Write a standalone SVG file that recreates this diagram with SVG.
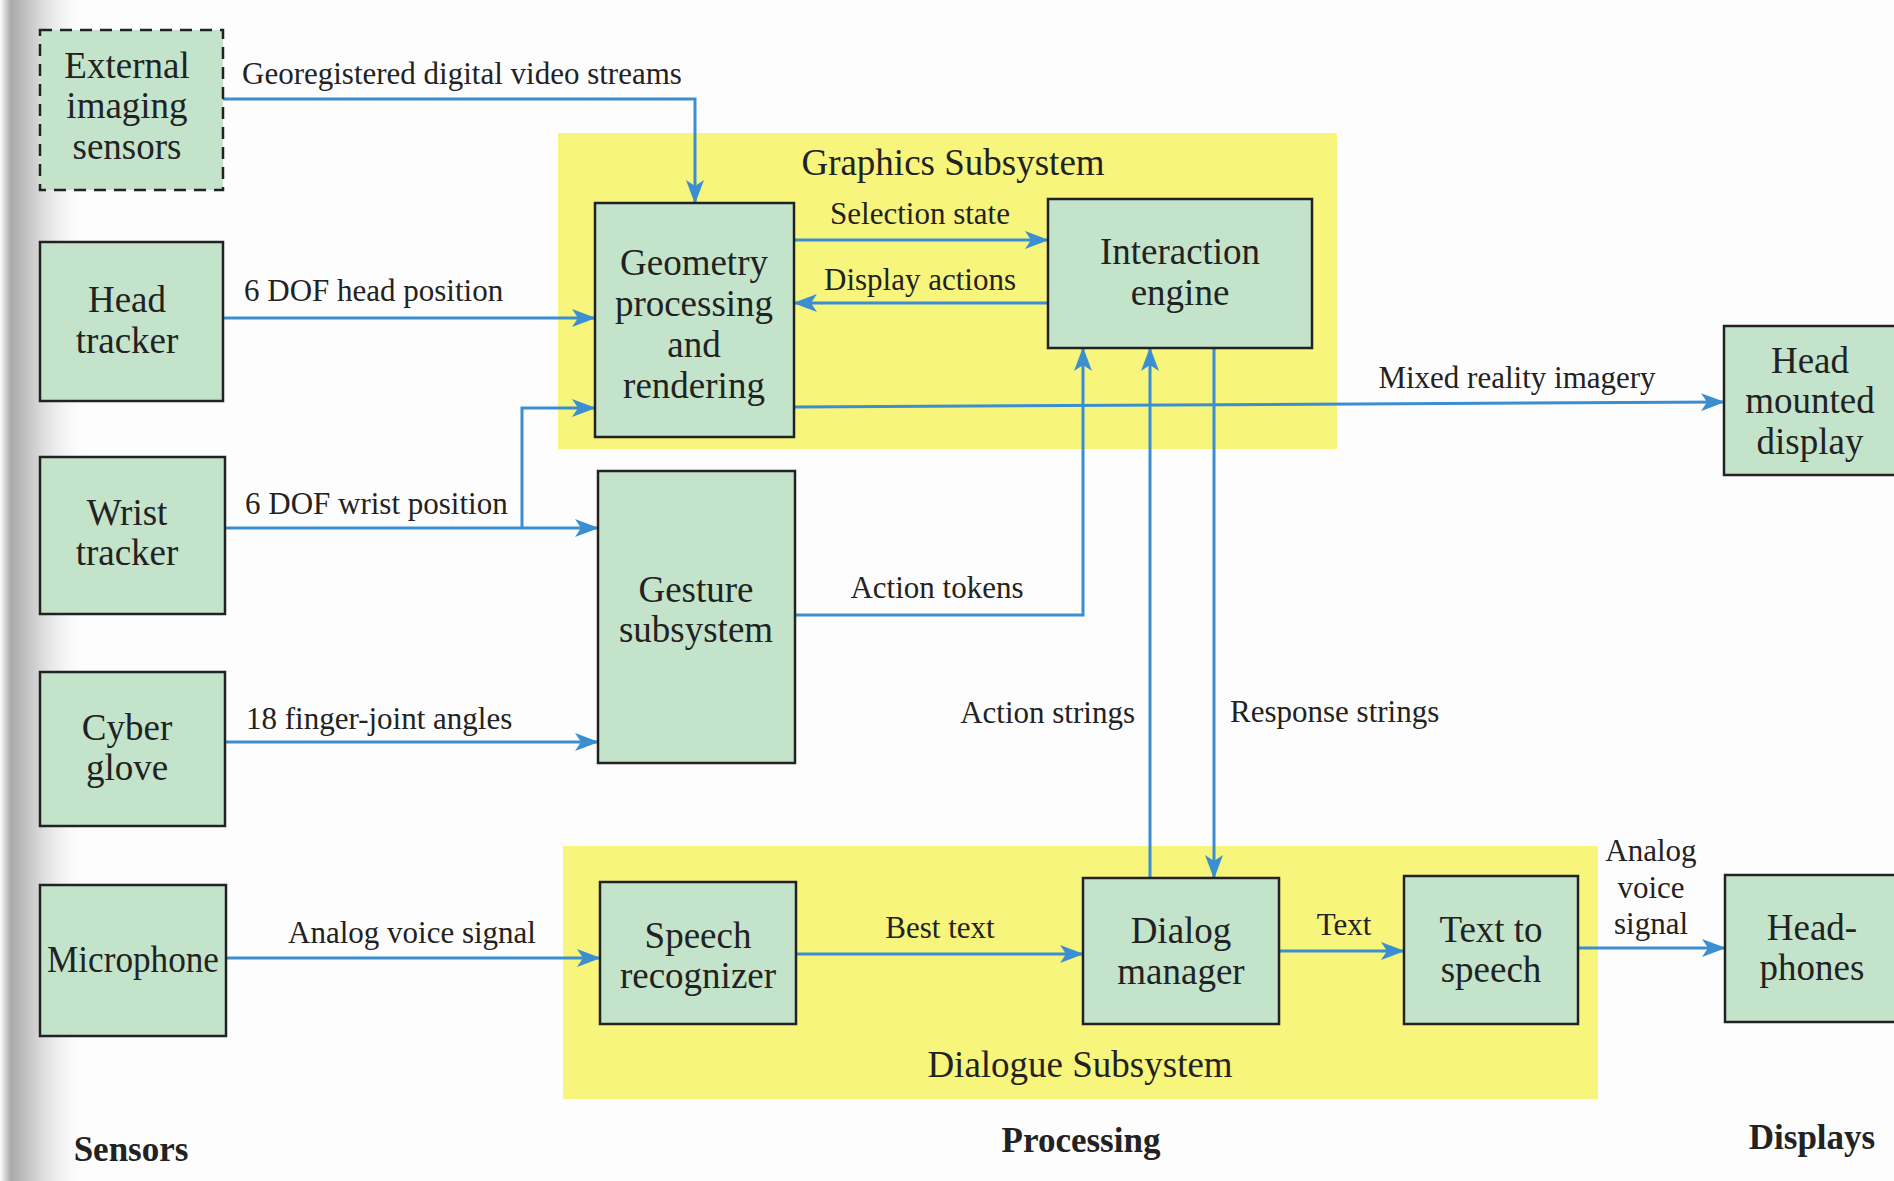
<svg xmlns="http://www.w3.org/2000/svg" width="1894" height="1181" viewBox="0 0 1894 1181">
  <defs>
    <marker id="arrow" viewBox="0 0 24 18" refX="23" refY="9" markerWidth="24" markerHeight="18" markerUnits="userSpaceOnUse" orient="auto">
      <path d="M0,0 L24,9 L0,18 L6,9 z" fill="#3b8fd1"/>
    </marker>
    <linearGradient id="gutter" x1="0" y1="0" x2="1" y2="0">
      <stop offset="0" stop-color="#ffffff"/>
      <stop offset="0.12" stop-color="#a9a9a9"/>
      <stop offset="0.45" stop-color="#d9d9d9"/>
      <stop offset="1" stop-color="#ffffff" stop-opacity="0"/>
    </linearGradient>
    <style>
      .box { fill: #c4e3cb; stroke: #222; stroke-width: 2.5; }
      .dashed { stroke-dasharray: 12 8; }
      .group { fill: #f7f57c; }
      .wire { fill: none; stroke: #3b8fd1; stroke-width: 3; }
      .arr { marker-end: url(#arrow); }
      text { font-family: "Liberation Serif", "DejaVu Serif", serif; fill: #222; }
      .t { font-size: 37px; text-anchor: middle; }
      .lbl { font-size: 31px; }
      .mid { text-anchor: middle; }
      .end { text-anchor: end; }
      .hdr { font-size: 37px; text-anchor: middle; }
      .col { font-size: 35px; font-weight: bold; text-anchor: middle; }
    </style>
  </defs>

  <rect width="1894" height="1181" fill="#fdfdfd"/>
  <rect x="0" y="0" width="90" height="1181" fill="url(#gutter)"/>

  <!-- subsystem backgrounds -->
  <g id="graphics-subsystem">
    <rect class="group" x="558" y="133" width="779" height="316"/>
    <text class="hdr" x="953" y="175">Graphics Subsystem</text>
  </g>
  <g id="dialogue-subsystem">
    <rect class="group" x="563" y="846" width="1035" height="253"/>
    <text class="hdr" x="1080" y="1077">Dialogue Subsystem</text>
  </g>

  <!-- connectors -->
  <g id="connectors">
    <path class="wire arr" d="M223,99 H695 V203"/>
    <path class="wire arr" d="M223,318 H595"/>
    <path class="wire arr" d="M225,528 H598"/>
    <path class="wire arr" d="M522,528 V408 H595"/>
    <path class="wire arr" d="M225,742 H598"/>
    <path class="wire arr" d="M226,958 H600"/>
    <path class="wire arr" d="M794,240 H1048"/>
    <path class="wire arr" d="M1048,303 H794"/>
    <path class="wire arr" d="M794,407 L1724,402"/>
    <path class="wire arr" d="M795,615 H1083 V348"/>
    <path class="wire arr" d="M1150,878 V348"/>
    <path class="wire arr" d="M1214,348 V878"/>
    <path class="wire arr" d="M796,954 H1083"/>
    <path class="wire arr" d="M1279,951 H1404"/>
    <path class="wire arr" d="M1578,948 H1725"/>

    <text class="lbl" x="242" y="84">Georegistered digital video streams</text>
    <text class="lbl" x="244" y="301">6 DOF head position</text>
    <text class="lbl" x="245" y="514">6 DOF wrist position</text>
    <text class="lbl" x="246" y="729">18 finger-joint angles</text>
    <text class="lbl mid" x="412" y="943">Analog voice signal</text>
    <text class="lbl mid" x="920" y="224">Selection state</text>
    <text class="lbl mid" x="920" y="290">Display actions</text>
    <text class="lbl mid" x="1517" y="388">Mixed reality imagery</text>
    <text class="lbl mid" x="937" y="598">Action tokens</text>
    <text class="lbl end" x="1135" y="723">Action strings</text>
    <text class="lbl" x="1230" y="722">Response strings</text>
    <text class="lbl mid" x="940" y="938">Best text</text>
    <text class="lbl mid" x="1344" y="935">Text</text>
    <text class="lbl mid" x="1651" y="861">Analog</text>
    <text class="lbl mid" x="1651" y="898">voice</text>
    <text class="lbl mid" x="1651" y="934">signal</text>
  </g>

  <!-- sensors -->
  <g id="external-imaging-sensors">
    <rect class="box dashed" x="40" y="30" width="183" height="160"/>
    <text class="t" x="127" y="78">External</text>
    <text class="t" x="127" y="118">imaging</text>
    <text class="t" x="127" y="159">sensors</text>
  </g>
  <g id="head-tracker">
    <rect class="box" x="40" y="242" width="183" height="159"/>
    <text class="t" x="127" y="312">Head</text>
    <text class="t" x="127" y="353">tracker</text>
  </g>
  <g id="wrist-tracker">
    <rect class="box" x="40" y="457" width="185" height="157"/>
    <text class="t" x="127" y="525">Wrist</text>
    <text class="t" x="127" y="565">tracker</text>
  </g>
  <g id="cyber-glove">
    <rect class="box" x="40" y="672" width="185" height="154"/>
    <text class="t" x="127" y="740">Cyber</text>
    <text class="t" x="127" y="780">glove</text>
  </g>
  <g id="microphone">
    <rect class="box" x="40" y="885" width="186" height="151"/>
    <text class="t" x="133" y="972" textLength="172" lengthAdjust="spacingAndGlyphs">Microphone</text>
  </g>

  <!-- processing -->
  <g id="geometry-processing">
    <rect class="box" x="595" y="203" width="199" height="234"/>
    <text class="t" x="694" y="275">Geometry</text>
    <text class="t" x="694" y="316">processing</text>
    <text class="t" x="694" y="357">and</text>
    <text class="t" x="694" y="398">rendering</text>
  </g>
  <g id="interaction-engine">
    <rect class="box" x="1048" y="199" width="264" height="149"/>
    <text class="t" x="1180" y="264">Interaction</text>
    <text class="t" x="1180" y="305">engine</text>
  </g>
  <g id="gesture-subsystem">
    <rect class="box" x="598" y="471" width="197" height="292"/>
    <text class="t" x="696" y="602">Gesture</text>
    <text class="t" x="696" y="642">subsystem</text>
  </g>
  <g id="speech-recognizer">
    <rect class="box" x="600" y="882" width="196" height="142"/>
    <text class="t" x="698" y="948">Speech</text>
    <text class="t" x="698" y="988">recognizer</text>
  </g>
  <g id="dialog-manager">
    <rect class="box" x="1083" y="878" width="196" height="146"/>
    <text class="t" x="1181" y="943">Dialog</text>
    <text class="t" x="1181" y="984">manager</text>
  </g>
  <g id="text-to-speech">
    <rect class="box" x="1404" y="876" width="174" height="148"/>
    <text class="t" x="1491" y="942">Text to</text>
    <text class="t" x="1491" y="982">speech</text>
  </g>

  <!-- displays -->
  <g id="head-mounted-display">
    <rect class="box" x="1724" y="326" width="180" height="149"/>
    <text class="t" x="1810" y="373">Head</text>
    <text class="t" x="1810" y="413">mounted</text>
    <text class="t" x="1810" y="454">display</text>
  </g>
  <g id="headphones">
    <rect class="box" x="1725" y="875" width="180" height="147"/>
    <text class="t" x="1812" y="940">Head-</text>
    <text class="t" x="1812" y="980">phones</text>
  </g>

  <!-- column captions -->
  <text class="col" x="131" y="1161">Sensors</text>
  <text class="col" x="1081" y="1152">Processing</text>
  <text class="col" x="1812" y="1149">Displays</text>
</svg>
